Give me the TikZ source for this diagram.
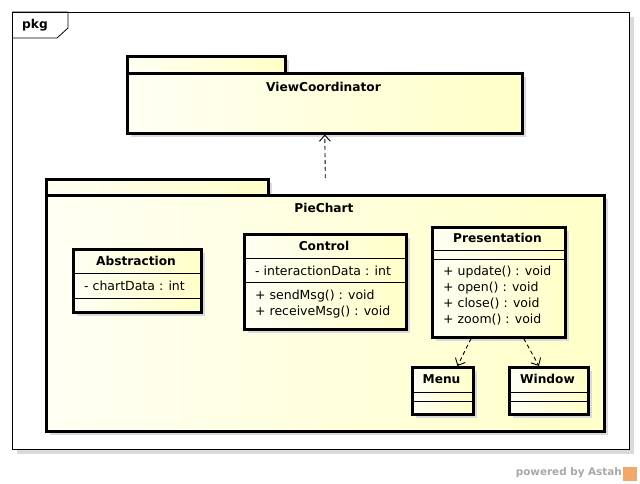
\documentclass[tikz,border=0pt]{standalone}
\usepackage{fontspec}
\setmainfont{DejaVu Sans}
\usetikzlibrary{arrows.meta,calc,shadows}
\definecolor{ylight}{RGB}{255,255,244}
\definecolor{ydeep}{RGB}{255,255,200}
\definecolor{shadowgray}{RGB}{218,218,218}
\definecolor{logoorange}{RGB}{242,168,104}
\definecolor{powergray}{RGB}{168,168,168}
\begin{document}
\begin{tikzpicture}[x=1pt,y=-1pt]
\tikzset{
  boxshadow/.style={drop shadow={shadow xshift=4pt,shadow yshift=-4pt,fill=shadowgray,opacity=1}},
  pkgpart/.style={draw=black,line width=2.6pt,left color=ylight,right color=ydeep,
    inner sep=0pt,anchor=north west,boxshadow},
  clsbox/.style={draw=black,line width=2.6pt,left color=ylight,right color=ydeep,
    inner sep=0pt,anchor=north west,boxshadow},
  sepline/.style={line width=0.9pt},
  titletext/.style={font=\bfseries\fontsize{12.2}{14}\selectfont,inner sep=0pt},
  membertext/.style={font=\fontsize{12.5}{14}\selectfont,inner sep=0pt,anchor=west},
  depend/.style={line width=0.9pt,dash pattern=on 4pt off 3pt,
    -{Straight Barb[length=6pt,width=11pt]}},
}
\useasboundingbox (0,0) rectangle (640,484);
\fill[white] (0,0) rectangle (640,484);

% outer frame
\node[draw=black,line width=1.2pt,fill=white,minimum width=617pt,minimum height=437pt,
  inner sep=0pt,anchor=north west,
  drop shadow={shadow xshift=4pt,shadow yshift=-4pt,fill=shadowgray,opacity=1}] (frame) at (12,12) {};
\node[titletext] (pkglbl) at (35,25) {pkg};
\draw[line width=0.8pt] (frame.north west) -- (68,12) -- (68,28) -- (57,38) -- (frame.west |- 0,38);

% ViewCoordinator package
\node[pkgpart,minimum width=158pt,minimum height=17pt] (vctab) at (126,55) {};
\node[pkgpart,minimum width=395pt,minimum height=60pt] (vc) at (126,72) {};
\node[titletext] (vclbl) at (323.5,87) {ViewCoordinator};

% PieChart package
\node[pkgpart,minimum width=222pt,minimum height=16pt] (pietab) at (45,178) {};
\node[pkgpart,minimum width=558pt,minimum height=236pt] (pie) at (45,194) {};
\node[titletext] (pielbl) at (324,208) {PieChart};

% Abstraction
\node[clsbox,minimum width=128pt,minimum height=63pt] (abs) at (72,248) {};
\draw[sepline] (abs.west |- 0,273) -- (abs.east |- 0,273);
\draw[sepline] (abs.west |- 0,298) -- (abs.east |- 0,298);
\node[titletext] (abst) at (136,261) {Abstraction};
\node[membertext] (absa) at (84,286) {- chartData : int};

% Control
\node[clsbox,minimum width=162pt,minimum height=95pt] (ctl) at (243,233) {};
\draw[sepline] (ctl.west |- 0,258) -- (ctl.east |- 0,258);
\draw[sepline] (ctl.west |- 0,282) -- (ctl.east |- 0,282);
\node[titletext] (ctlt) at (324,246) {Control};
\node[membertext] (ctla) at (255,271) {- interactionData : int};
\node[membertext] (ctlm1) at (255,296) {+ sendMsg() : void};
\node[membertext] (ctlm2) at (255,312) {+ receiveMsg() : void};

% Presentation
\node[clsbox,minimum width=133pt,minimum height=110pt] (pres) at (431,226) {};
\draw[sepline] (pres.west |- 0,250) -- (pres.east |- 0,250);
\draw[sepline] (pres.west |- 0,259) -- (pres.east |- 0,259);
\node[titletext] (prest) at (497.5,238) {Presentation};
\node[membertext] (presm1) at (443,272) {+ update() : void};
\node[membertext] (presm2) at (443,288) {+ open() : void};
\node[membertext] (presm3) at (443,304) {+ close() : void};
\node[membertext] (presm4) at (443,320) {+ zoom() : void};

% Menu
\node[clsbox,minimum width=61pt,minimum height=47pt] (menu) at (411,366) {};
\draw[sepline] (menu.west |- 0,392) -- (menu.east |- 0,392);
\draw[sepline] (menu.west |- 0,401) -- (menu.east |- 0,401);
\node[titletext] (menut) at (441.5,379) {Menu};

% Window
\node[clsbox,minimum width=79pt,minimum height=47pt] (win) at (508,366) {};
\draw[sepline] (win.west |- 0,392) -- (win.east |- 0,392);
\draw[sepline] (win.west |- 0,401) -- (win.east |- 0,401);
\node[titletext] (wint) at (547.5,379) {Window};

% dependencies
\draw[depend] (pie.north |- pietab.north) -- (vc.south);
\draw[depend] ($(pres.south west)!0.295!(pres.south east)$) -- ($(menu.north west)!0.73!(menu.north east)$);
\draw[depend] ($(pres.south west)!0.684!(pres.south east)$) -- ($(win.north west)!0.38!(win.north east)$);

% footer
\node[font=\bfseries\fontsize{10.4}{12}\selectfont,text=powergray,inner sep=0pt,anchor=east] (powered) at (622,473) {powered by Astah};
\node[fill=logoorange,minimum width=14pt,minimum height=14pt,inner sep=0pt,anchor=west] (logo) at (623,474) {};
\end{tikzpicture}
\end{document}
